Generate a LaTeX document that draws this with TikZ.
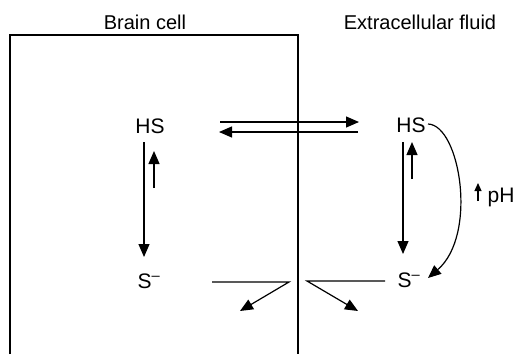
\documentclass[tikz,border=0pt]{standalone}
\usepackage{fontspec}
\setsansfont{Liberation Sans}
\usepackage{tikz}
\usetikzlibrary{arrows.meta}
\tikzset{every picture/.style={/utils/exec={\sffamily}}}

\begin{document}
\begin{tikzpicture}[x=1pt, y=-1pt, line width=1.2pt, >={Triangle[length=13pt, width=11pt]}, every node/.style={font=\fontsize{20}{24}\selectfont}]
        \useasboundingbox (0,0) rectangle (522,354);

        % Nodes
        \node (cell) at (145, 22) {Brain cell};
        \node (fluid) at (420, 22) {Extracellular fluid};
        \node[font=\fontsize{21}{24}\selectfont] (HSin) at (150, 126) {HS};
        \node[font=\fontsize{21}{24}\selectfont] (Sin) at (149, 281) {S\textsuperscript{\textendash}};
        \node[font=\fontsize{21}{24}\selectfont] (HSout) at (411, 125) {HS};
        \node[font=\fontsize{21}{24}\selectfont] (Sout) at (409, 280) {S\textsuperscript{\textendash}};
        \node[font=\fontsize{21}{24}\selectfont] (pH) at (501, 197) {pH};

        % Arrow ends
        \coordinate (inDownA) at (144, 142);
        \coordinate (inDownB) at (144, 257);
        \coordinate (inUpA) at (154, 188);
        \coordinate (inUpB) at (154, 151);
        \coordinate (outDownA) at (403, 142);
        \coordinate (outDownB) at (403, 254);
        \coordinate (outUpA) at (412, 179);
        \coordinate (outUpB) at (412, 142);
        \coordinate (exitA) at (220, 122);
        \coordinate (exitB) at (359, 122);
        \coordinate (entryA) at (358, 132);
        \coordinate (entryB) at (219, 132);
        \coordinate (lossIn) at (212, 282);
        \coordinate (kinkIn) at (289, 282);
        \coordinate (tipIn) at (240, 311);
        \coordinate (lossOut) at (385, 281);
        \coordinate (kinkOut) at (307, 281);
        \coordinate (tipOut) at (358, 311);
        \coordinate (curveA) at (428, 124);
        \coordinate (curveB) at (428, 278);
        \coordinate (phA) at (478, 201);
        \coordinate (phB) at (478, 183);

        % Cell wall
        \draw (10, 354) -- (10, 35) -- (298, 35) -- (298, 354);

        % Directed edges
        \draw[->] (inDownA) -- (inDownB);
        \draw[->] (inUpA) -- (inUpB);
        \draw[->] (outDownA) -- (outDownB);
        \draw[->] (outUpA) -- (outUpB);
        \draw[->] (exitA) -- (exitB);
        \draw[->] (entryA) -- (entryB);
        \draw[->] (lossIn) -- (kinkIn) -- (tipIn);
        \draw[->] (lossOut) -- (kinkOut) -- (tipOut);
        \draw[->] (curveA) .. controls (460, 125) and (478, 235) .. (curveB);
        \draw[->, >={Triangle[length=8pt, width=7pt]}] (phA) -- (phB);
    \end{tikzpicture}
\end{document}
